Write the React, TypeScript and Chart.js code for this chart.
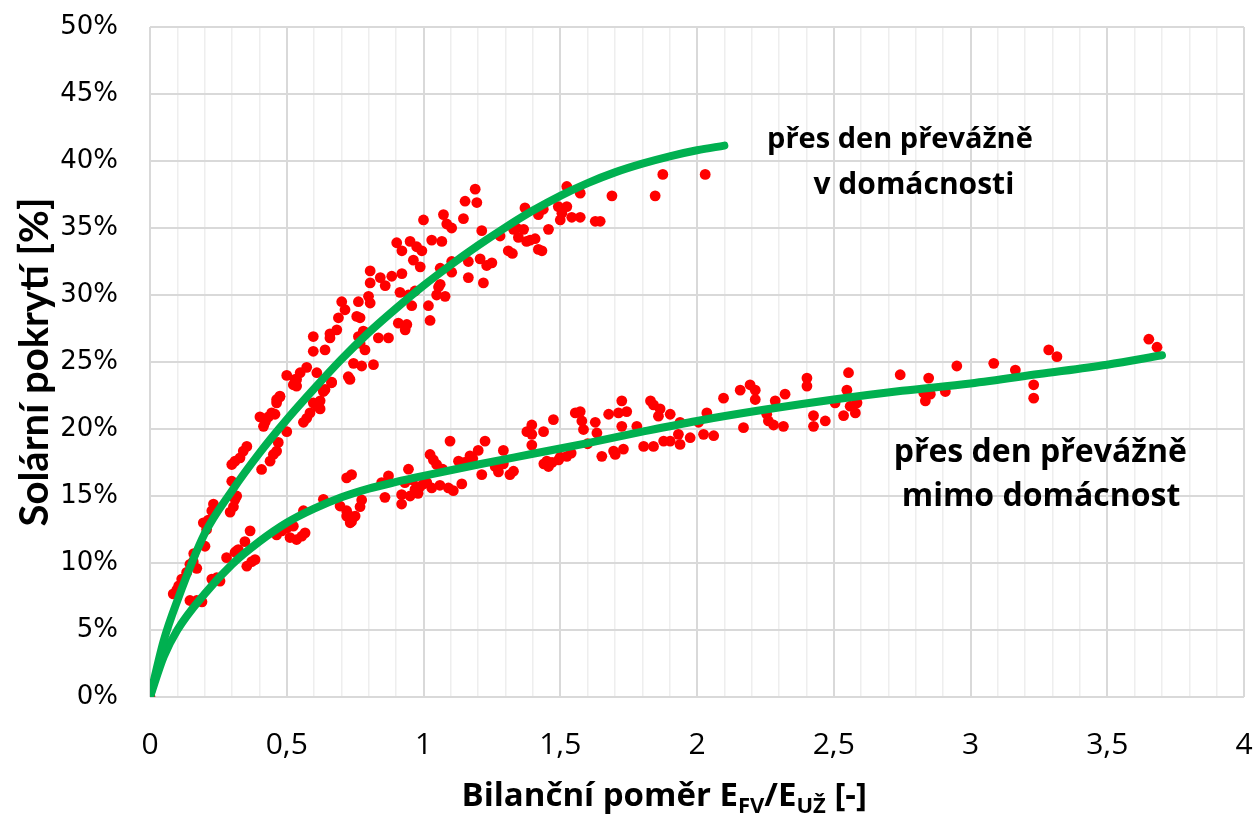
import React, { useEffect, useRef } from 'react';
import { Chart, registerables } from 'chart.js';

Chart.register(...registerables);

// Fitted curve: "přes den převážně v domácnosti"
const curveHomeX = [0, 0.05, 0.1, 0.2, 0.3, 0.4, 0.5, 0.6, 0.7, 0.8, 0.9, 1.0, 1.1, 1.2, 1.3, 1.4, 1.5, 1.6, 1.7, 1.8, 1.9, 2.0, 2.1];
const curveHomeY = [0, 4.2, 7.2, 12.2, 15.4, 18.2, 20.7, 23.0, 25.2, 27.2, 29.0, 30.7, 32.25, 33.7, 35.05, 36.3, 37.4, 38.35, 39.15, 39.8, 40.35, 40.8, 41.15];

// Fitted curve: "přes den převážně mimo domácnost"
const curveAwayX = [0, 0.05, 0.1, 0.2, 0.3, 0.4, 0.5, 0.6, 0.7, 0.8, 0.9, 1.0, 1.2, 1.4, 1.6, 1.8, 2.0, 2.25, 2.5, 2.75, 3.0, 3.25, 3.5, 3.7];
const curveAwayY = [0, 3.0, 5.0, 7.7, 9.9, 11.6, 13.0, 14.05, 14.9, 15.55, 16.05, 16.5, 17.35, 18.15, 18.95, 19.8, 20.6, 21.45, 22.2, 22.85, 23.4, 24.1, 24.8, 25.5];

// Measured points, household at home during the day [ratio, %]
const pointsHome: [number, number][] = [
  [0, 0], [0.085, 7.7], [0.098, 8.0], [0.105, 8.3], [0.116, 8.8], [0.134, 9.3], [0.146, 9.9], [0.158, 10.1], [0.171, 9.6], [0.16, 10.7],
  [0.201, 11.25], [0.195, 13.0], [0.213, 13.2], [0.226, 13.9], [0.232, 14.4], [0.207, 12.5],
  [0.293, 13.8], [0.305, 14.2], [0.311, 14.75], [0.317, 15.0], [0.299, 16.1], [0.299, 17.35], [0.311, 17.6], [0.329, 17.85], [0.341, 18.35], [0.354, 18.7],
  [0.402, 20.9], [0.421, 20.5], [0.433, 20.9], [0.445, 21.2], [0.457, 21.1], [0.463, 21.95], [0.475, 22.45], [0.415, 20.2],
  [0.408, 16.98], [0.439, 17.6], [0.451, 18.1], [0.463, 18.35], [0.469, 19.0], [0.5, 19.8],
  [0.524, 23.3], [0.536, 23.7], [0.561, 20.5], [0.573, 20.8], [0.585, 21.2], [0.597, 21.95], [0.61, 21.7], [0.622, 21.5], [0.634, 22.8], [0.664, 23.45],
  [0.463, 22.2], [0.475, 22.4], [0.5, 24.0], [0.53, 23.7], [0.536, 23.2], [0.549, 24.2], [0.573, 24.6], [0.597, 26.9], [0.597, 25.8], [0.61, 24.2],
  [0.622, 22.1], [0.64, 22.95], [0.64, 25.9], [0.658, 27.1], [0.664, 23.5], [0.683, 27.4], [0.689, 28.3], [0.701, 29.5], [0.713, 28.9], [0.725, 23.9],
  [0.744, 24.9], [0.756, 28.4], [0.762, 29.5], [0.768, 28.3], [0.762, 26.9], [0.774, 24.7], [0.787, 27.2], [0.799, 29.9], [0.805, 29.4], [0.805, 30.9],
  [0.805, 31.8], [0.817, 24.8], [0.835, 26.8], [0.842, 31.3], [0.86, 30.7], [0.872, 26.8], [0.884, 31.4], [0.902, 33.9], [0.908, 27.9], [0.921, 33.3],
  [0.921, 31.6], [0.914, 30.2], [0.933, 27.4], [0.939, 27.8], [0.945, 30.0], [0.951, 34.0], [0.957, 29.2], [0.963, 32.6], [0.975, 33.6], [0.988, 32.1],
  [0.994, 33.3], [1.0, 35.6], [1.018, 29.2], [1.024, 28.1], [1.03, 34.1], [1.048, 30.0], [1.061, 32.0], [1.061, 30.8], [1.067, 34.0], [1.073, 36.0],
  [1.079, 29.9], [1.085, 35.3], [1.103, 32.5], [1.103, 31.7], [1.103, 35.0], [1.146, 35.7], [1.152, 37.0], [1.164, 32.5], [1.164, 31.3], [1.189, 37.9],
  [1.195, 36.9], [1.207, 32.7], [1.213, 34.8], [1.219, 30.9], [1.231, 32.2], [1.25, 32.4], [1.28, 34.4], [1.31, 33.3], [1.34, 35.0], [1.347, 34.3],
  [1.371, 36.5], [1.377, 34.0], [0.658, 26.8], [0.634, 22.9], [0.731, 23.7], [0.78, 27.3], [0.786, 25.9], [0.768, 26.4], [0.969, 30.3], [1.055, 30.6],
  [1.325, 33.1], [1.329, 34.9], [1.366, 34.9], [1.39, 34.1], [1.408, 34.2], [1.42, 33.4], [1.433, 33.3], [1.42, 36.0], [1.438, 36.4], [1.457, 34.9],
  [1.5, 35.6], [1.506, 36.1], [1.524, 36.6], [1.493, 36.6], [1.524, 38.1], [1.542, 35.8], [1.573, 35.8], [1.573, 37.6], [1.628, 35.5], [1.646, 35.5],
  [1.689, 37.4], [1.847, 37.4], [1.875, 39.0], [2.03, 39.0],
];

// Measured points, household away during the day [ratio, %]
const pointsAway: [number, number][] = [
  [0.146, 7.2], [0.171, 7.2], [0.19, 7.1], [0.226, 8.8], [0.244, 8.9], [0.256, 8.65], [0.28, 10.4], [0.311, 10.8], [0.317, 10.9], [0.323, 11.0],
  [0.347, 11.6], [0.366, 12.4], [0.354, 9.76], [0.372, 10.1], [0.384, 10.25], [0.463, 12.1], [0.482, 12.4], [0.5, 12.6], [0.524, 12.75], [0.512, 11.9],
  [0.536, 11.75], [0.555, 12.0], [0.567, 12.25], [0.561, 13.9], [0.634, 14.75], [0.695, 14.25], [0.719, 16.35], [0.719, 13.5], [0.732, 13.0],
  [0.719, 13.9], [0.731, 13.5], [0.737, 13.1], [0.75, 13.5], [0.768, 14.2], [0.774, 14.7], [0.737, 16.6], [0.859, 14.9], [0.847, 16.0], [0.872, 16.5],
  [0.92, 14.4], [0.92, 15.1], [0.932, 16.0], [0.945, 17.0], [0.951, 15.0], [0.969, 15.5], [0.987, 15.7], [1.012, 16.0], [1.03, 15.6], [1.024, 18.1],
  [1.036, 17.7], [1.048, 17.35], [1.091, 15.6], [1.109, 15.4], [1.14, 15.9], [1.128, 17.6], [1.097, 19.1], [1.17, 18.0], [1.2, 18.4], [1.213, 16.6],
  [1.225, 19.1], [1.262, 17.2], [1.274, 16.8], [1.292, 18.4], [1.292, 17.4], [1.316, 16.6], [1.329, 16.85], [1.378, 19.8], [1.396, 20.3], [1.396, 19.6],
  [1.396, 18.8], [1.439, 19.8], [1.451, 17.6], [1.457, 17.2], [1.475, 20.7], [1.494, 17.7], [1.524, 17.96], [1.555, 21.2], [1.573, 21.3], [1.579, 20.6],
  [1.585, 19.96], [1.628, 20.5], [1.634, 19.7], [1.652, 17.96], [1.677, 21.1], [1.695, 18.35], [1.701, 18.1], [1.713, 21.2], [1.725, 22.1], [1.725, 20.2],
  [1.731, 18.5], [1.743, 21.3], [0.96, 16.2], [0.98, 15.2], [1.0, 15.9], [1.06, 15.8], [1.07, 17.0], [1.15, 17.5], [1.18, 17.8], [1.44, 17.4],
  [1.47, 17.5], [1.5, 17.9], [1.54, 18.2], [1.6, 18.9],
  [1.78, 20.2], [1.805, 18.7], [1.83, 22.1], [1.841, 21.8], [1.841, 18.7], [1.859, 20.96], [1.865, 21.5], [1.878, 19.1], [1.902, 21.1], [1.902, 19.1],
  [1.932, 19.6], [1.938, 20.5], [1.938, 18.85], [1.975, 19.35], [2.006, 20.5], [2.024, 19.6], [2.036, 21.2], [2.061, 19.5], [2.097, 22.3], [2.158, 22.9],
  [2.17, 20.1], [2.194, 23.3], [2.213, 22.9], [2.213, 22.2], [2.255, 21.1], [2.261, 20.6], [2.28, 20.3], [2.286, 22.1], [2.316, 20.2], [2.322, 22.6],
  [2.402, 23.8], [2.402, 23.2], [2.426, 21.0], [2.426, 20.2], [2.469, 20.6], [2.505, 21.95], [2.536, 21.0], [2.548, 22.9], [2.554, 24.2], [2.56, 21.7],
  [2.579, 21.2], [2.585, 21.95], [2.743, 24.05],
  [2.835, 22.1], [2.829, 22.7], [2.853, 22.6], [2.847, 23.8], [2.908, 22.8], [2.95, 24.7], [3.085, 24.9], [3.164, 24.4], [3.231, 23.3], [3.231, 22.3],
  [3.286, 25.9], [3.316, 25.4], [3.652, 26.7], [3.682, 26.1],
];

const annotationHome = ['přes den převážně', 'v domácnosti'];
const annotationAway = ['přes den převážně', 'mimo domácnost'];
const yAxisTitle = 'Solární pokrytí [%]';
const xAxisTitleParts: [string, boolean][] = [
  ['Bilanční poměr E', false], ['FV', true], ['/E', false], ['UŽ', true], [' [-]', false],
];

const isMajor = (v: number) => Math.abs(v * 2 - Math.round(v * 2)) < 1e-6;

const textPlugin = {
  id: 'customTexts',
  afterDraw(chart: any) {
    const { ctx, scales } = chart;
    const x = scales.x;
    const y = scales.y;
    ctx.save();
    ctx.fillStyle = '#000';
    ctx.textBaseline = 'middle';
    ctx.textAlign = 'center';
    // annotations
    ctx.font = 'bold 29px "Open Sans"';
    ctx.fillText(annotationHome[0], x.getPixelForValue(2.742), y.getPixelForValue(41.6));
    ctx.font = 'bold 30px "Open Sans"';
    ctx.fillText(annotationHome[1], x.getPixelForValue(2.793), y.getPixelForValue(38.17));
    ctx.font = 'bold 32px "Open Sans"';
    ctx.fillText(annotationAway[0], x.getPixelForValue(3.255), y.getPixelForValue(18.25));
    ctx.fillText(annotationAway[1], x.getPixelForValue(3.258), y.getPixelForValue(14.96));
    // x axis title with subscripts
    const mainFont = 'bold 33px "Open Sans"';
    const subFont = 'bold 22px "Open Sans"';
    let total = 0;
    xAxisTitleParts.forEach(([t, sub]) => {
      ctx.font = sub ? subFont : mainFont;
      total += ctx.measureText(t).width;
    });
    const cx = x.getPixelForValue(1.88);
    let px = cx - total / 2;
    const baseY = 806;
    ctx.textAlign = 'left';
    ctx.textBaseline = 'alphabetic';
    xAxisTitleParts.forEach(([t, sub]) => {
      ctx.font = sub ? subFont : mainFont;
      ctx.fillText(t, px, sub ? baseY + 7 : baseY);
      px += ctx.measureText(t).width;
    });
    ctx.restore();
  },
};

export default function App() {
  const ref = useRef<HTMLCanvasElement>(null);
  useEffect(() => {
    const toXY = (arr: [number, number][]) => arr.map(([a, b]) => ({ x: a, y: b }));
    const toCurve = (xs: number[], ys: number[]) => xs.map((v, i) => ({ x: v, y: ys[i] }));
    const curveStyle = {
      showLine: true,
      borderColor: '#00B050',
      backgroundColor: '#00B050',
      borderWidth: 8,
      borderCapStyle: 'round',
      borderJoinStyle: 'round',
      cubicInterpolationMode: 'monotone',
      pointRadius: 0,
    };
    const dotStyle = {
      pointRadius: 5.4,
      pointBorderWidth: 0,
      backgroundColor: '#FF0000',
      borderColor: '#FF0000',
    };
    const chart = new Chart(ref.current as HTMLCanvasElement, {
      type: 'scatter',
      data: {
        datasets: [
          { label: 'v domácnosti – křivka', data: toCurve(curveHomeX, curveHomeY), ...curveStyle } as any,
          { label: 'mimo domácnost – křivka', data: toCurve(curveAwayX, curveAwayY), ...curveStyle } as any,
          { label: 'v domácnosti', data: toXY(pointsHome), ...dotStyle } as any,
          { label: 'mimo domácnost', data: toXY(pointsAway), ...dotStyle } as any,
        ],
      },
      options: {
        animation: false,
        responsive: false,
        devicePixelRatio: 1,
        layout: { padding: { left: 0, right: 13, top: 27, bottom: 0 } },
        plugins: { legend: { display: false }, tooltip: { enabled: false } },
        scales: {
          x: {
            type: 'linear',
            min: 0,
            max: 4,
            afterFit: (s: any) => { s.height = 117; },
            border: { display: false },
            grid: {
              drawTicks: true,
              tickLength: 30,
              tickColor: 'rgba(0,0,0,0)',
              color: (c: any) => (isMajor(c.tick.value) ? '#D9D9D9' : '#EEEEEE'),
              lineWidth: (c: any) => (isMajor(c.tick.value) ? 2 : 1.5),
            },
            ticks: {
              stepSize: 0.1,
              autoSkip: false,
              maxRotation: 0,
              padding: 0,
              color: '#000',
              font: { family: '"Open Sans"', size: 30 },
              callback: (v: any) => (isMajor(Number(v)) ? String(Math.round(Number(v) * 10) / 10).replace('.', ',') : ''),
            },
          },
          y: {
            type: 'linear',
            min: 0,
            max: 50,
            afterFit: (s: any) => { s.width = 150; },
            border: { display: false },
            grid: { drawTicks: true, tickLength: 32, tickColor: 'rgba(0,0,0,0)', color: '#D9D9D9', lineWidth: 2 },
            title: {
              display: true,
              text: yAxisTitle,
              color: '#000',
              font: { family: 'Lato', size: 40, weight: 'bold' },
              padding: { top: 11, bottom: 0 },
            },
            ticks: {
              stepSize: 5,
              padding: 0,
              color: '#000',
              font: { family: '"DejaVu Sans"', size: 26 },
              callback: (v: any) => `${v}%`,
            },
          },
        },
      },
      plugins: [textPlugin],
    });
    return () => chart.destroy();
  }, []);
  return (
    <div style={{ position: 'absolute', left: 0, top: 0, width: 1257, height: 814, background: '#fff' }}>
      <canvas ref={ref} width={1257} height={814} style={{ display: 'block' }} />
    </div>
  );
}
